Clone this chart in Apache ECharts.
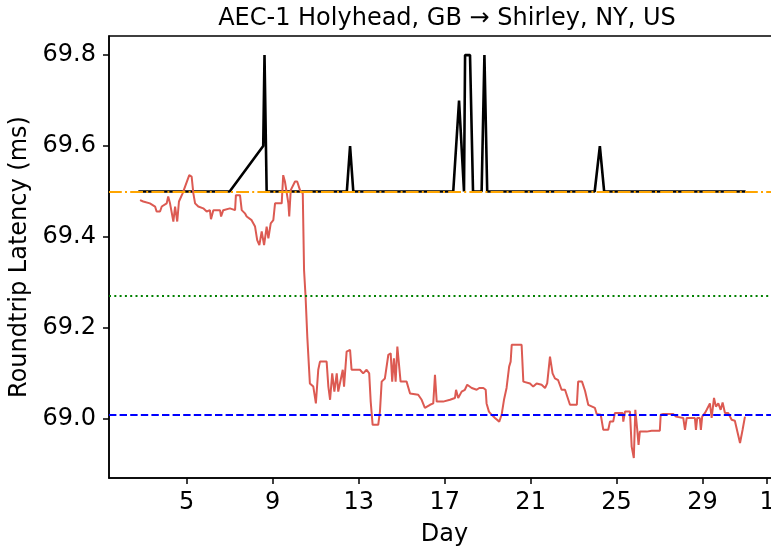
<!DOCTYPE html>
<html lang="en">
<head>
    <meta charset="UTF-8">
    <title>AEC-1 Holyhead, GB → Shirley, NY, US</title>
    <script src="https://cdn.jsdelivr.net/npm/echarts@6/dist/echarts.min.js"></script>
    <style>
        body, html {
            margin: 0;
            background: #fff;
        }
        #main {
            width: 771px;
            height: 549px;
        }
    </style>
</head>
<body>
<div id="main"></div>

<script>
    // tick positions (day of month, 32 = 1st of next month)
    const xTicks = [5, 9, 13, 17, 21, 25, 29, 32];
    const yTicks = [69.0, 69.2, 69.4, 69.6, 69.8];

    // black trace: [day, latency ms]
    const maxLatency = [
        [2.75, 69.5], [7.0, 69.5], [8.56, 69.6], [8.62, 69.8], [8.72, 69.5],
        [12.45, 69.5], [12.6, 69.6], [12.75, 69.5],
        [17.4, 69.5], [17.67, 69.7], [17.9, 69.5], [17.95, 69.8], [18.18, 69.8], [18.32, 69.5],
        [18.72, 69.5], [18.85, 69.8], [18.98, 69.5],
        [23.98, 69.5], [24.22, 69.6], [24.42, 69.5], [31.0, 69.5]
    ];

    // red trace: [day, latency ms]
    const medianLatency = [
        [2.83, 69.481], [2.98, 69.478], [3.29, 69.474], [3.53, 69.467], [3.60, 69.456], [3.76, 69.456],
        [3.84, 69.467], [4.07, 69.474], [4.14, 69.489], [4.22, 69.475], [4.38, 69.434], [4.46, 69.467],
        [4.56, 69.434], [4.64, 69.478], [4.81, 69.496], [5.12, 69.536], [5.23, 69.533], [5.31, 69.496],
        [5.39, 69.474], [5.47, 69.478], [5.54, 69.467], [5.77, 69.463], [5.93, 69.456], [6.08, 69.459],
        [6.13, 69.439], [6.24, 69.459], [6.55, 69.459], [6.60, 69.445], [6.70, 69.459], [7.01, 69.463],
        [7.25, 69.459], [7.29, 69.492], [7.48, 69.492], [7.56, 69.459], [7.71, 69.452], [7.79, 69.445],
        [8.02, 69.437], [8.18, 69.423], [8.28, 69.393], [8.38, 69.382], [8.49, 69.412], [8.60, 69.382],
        [8.72, 69.423], [8.80, 69.397], [8.91, 69.430], [9.03, 69.437], [9.11, 69.474], [9.42, 69.474],
        [9.49, 69.536], [9.57, 69.522], [9.73, 69.474], [9.77, 69.445], [9.84, 69.503], [10.04, 69.522],
        [10.14, 69.522], [10.27, 69.503], [10.40, 69.496], [10.46, 69.327], [10.53, 69.269], [10.61, 69.181],
        [10.73, 69.078], [10.89, 69.071], [11.01, 69.034], [11.12, 69.108], [11.20, 69.126], [11.51, 69.126],
        [11.59, 69.071], [11.67, 69.042], [11.77, 69.100], [11.87, 69.060], [11.98, 69.100], [12.05, 69.060],
        [12.13, 69.060], [12.26, 69.108], [12.32, 69.071], [12.44, 69.148], [12.60, 69.152], [12.67, 69.108],
        [12.83, 69.108], [13.06, 69.108], [13.21, 69.100], [13.37, 69.108], [13.49, 69.100], [13.56, 69.038],
        [13.65, 68.987], [13.91, 68.987], [13.99, 69.016], [14.07, 69.082], [14.22, 69.089], [14.38, 69.141],
        [14.49, 69.144], [14.56, 69.082], [14.64, 69.133], [14.72, 69.082], [14.80, 69.159], [14.89, 69.163],
        [14.95, 69.082], [15.23, 69.082], [15.39, 69.056], [15.77, 69.053], [15.93, 69.042], [16.08, 69.024],
        [16.16, 69.027], [16.32, 69.031], [16.47, 69.034], [16.55, 69.097], [16.63, 69.038], [16.93, 69.038],
        [17.25, 69.042], [17.48, 69.046], [17.53, 69.064], [17.63, 69.046], [17.79, 69.060], [17.94, 69.064],
        [18.05, 69.075], [18.26, 69.068], [18.49, 69.064], [18.61, 69.068], [18.80, 69.068], [18.91, 69.064],
        [18.95, 69.034], [19.06, 69.016], [19.19, 69.009], [19.34, 69.002], [19.54, 68.994], [19.65, 69.009],
        [19.76, 69.042], [19.88, 69.068], [20.00, 69.115], [20.07, 69.126], [20.12, 69.163], [20.58, 69.163],
        [20.66, 69.082], [20.97, 69.078], [21.12, 69.071], [21.28, 69.078], [21.51, 69.075], [21.67, 69.068],
        [21.77, 69.078], [21.90, 69.137], [22.02, 69.100], [22.13, 69.089], [22.28, 69.085], [22.44, 69.064],
        [22.60, 69.064], [22.67, 69.060], [22.83, 69.031], [23.15, 69.031], [23.21, 69.082], [23.39, 69.082],
        [23.53, 69.062], [23.68, 69.031], [23.99, 69.024], [24.07, 69.011], [24.26, 69.009], [24.38, 68.976],
        [24.61, 68.976], [24.69, 68.994], [24.84, 68.994], [24.92, 69.013], [25.28, 69.013], [25.31, 68.994],
        [25.39, 69.016], [25.62, 69.016], [25.70, 68.939], [25.80, 68.914], [25.87, 69.020], [25.96, 68.976],
        [26.02, 68.943], [26.08, 68.972], [26.40, 68.972], [26.47, 68.968], [26.63, 68.974], [27.01, 68.974],
        [27.05, 69.009], [27.17, 69.011], [27.63, 69.011], [27.76, 69.005], [28.10, 69.002], [28.18, 68.976],
        [28.26, 69.002], [28.64, 69.002], [28.69, 68.976], [28.75, 69.002], [28.87, 69.002], [28.92, 68.976],
        [28.98, 69.005], [29.11, 69.013], [29.19, 69.020], [29.34, 69.034], [29.42, 69.002], [29.53, 69.046],
        [29.62, 69.027], [29.73, 69.034], [29.84, 69.020], [29.93, 69.036], [30.04, 69.013], [30.19, 69.013],
        [30.35, 68.998], [30.50, 68.996], [30.74, 68.947], [30.86, 68.976], [30.97, 69.005]
    ];

    // horizontal reference levels
    const maxLevel = 69.5;
    const meanLevel = 69.27;
    const minLevel = 69.01;

    const FONT = 'DejaVu Sans';
    var chart = echarts.init(document.getElementById('main'), null, {renderer: 'canvas'});

    var option = {
        animation: false,
        backgroundColor: '#fff',
        title: {
            text: 'AEC-1 Holyhead, GB → Shirley, NY, US',
            left: 442,
            textAlign: 'center',
            top: 2,
            textStyle: {
                fontFamily: FONT,
                fontWeight: 'normal',
                fontSize: 24,
                color: '#000'
            }
        },
        grid: {
            left: 109,
            top: 36,
            right: -9,
            bottom: 71,
            show: true,
            borderColor: '#000',
            borderWidth: 1.5,
            containLabel: false,
            outerBoundsMode: 'none'
        },
        xAxis: {
            type: 'value',
            min: 1.386,
            max: 32.6,
            name: 'Day',
            nameLocation: 'middle',
            nameGap: 45,
            nameTextStyle: {fontFamily: FONT, fontSize: 24, color: '#000'},
            axisLine: {show: true, lineStyle: {color: '#000', width: 1.5}},
            axisTick: {show: true, length: 6, customValues: xTicks, lineStyle: {color: '#000', width: 1.5}},
            axisLabel: {
                customValues: xTicks,
                margin: 13,
                fontFamily: FONT,
                fontSize: 24,
                color: '#000',
                formatter: function (v) {
                    return v > 31 ? String(v - 31) : String(v);
                }
            },
            splitLine: {show: false}
        },
        yAxis: {
            type: 'value',
            min: 68.87,
            max: 69.842,
            name: 'Roundtrip Latency (ms)',
            nameLocation: 'middle',
            nameGap: 69,
            nameTextStyle: {fontFamily: FONT, fontSize: 24, color: '#000'},
            axisLine: {show: true, lineStyle: {color: '#000', width: 1.5}},
            axisTick: {show: true, length: 6, customValues: yTicks, lineStyle: {color: '#000', width: 1.5}},
            axisLabel: {
                customValues: yTicks,
                margin: 13,
                fontFamily: FONT,
                fontSize: 24,
                color: '#000',
                formatter: function (v) {
                    return v.toFixed(1);
                }
            },
            splitLine: {show: false}
        },
        series: [
            {
                name: 'max',
                type: 'line',
                data: maxLatency,
                showSymbol: false,
                lineStyle: {color: '#000', width: 2.6},
                z: 2
            },
            {
                name: 'median',
                type: 'line',
                data: medianLatency,
                showSymbol: false,
                lineStyle: {color: '#dc5a52', width: 2},
                z: 3,
                markLine: {
                    silent: true,
                    symbol: 'none',
                    label: {show: false},
                    z: 4,
                    data: [
                        {yAxis: maxLevel, lineStyle: {color: '#ffa500', width: 2, type: [12.8, 3.2, 2, 3.2]}},
                        {yAxis: meanLevel, lineStyle: {color: '#008000', width: 2, type: [2, 3.3]}},
                        {yAxis: minLevel, lineStyle: {color: '#0000ff', width: 2, type: [7.4, 3.2]}}
                    ]
                }
            }
        ]
    };

    chart.setOption(option);
</script>
</body>
</html>
